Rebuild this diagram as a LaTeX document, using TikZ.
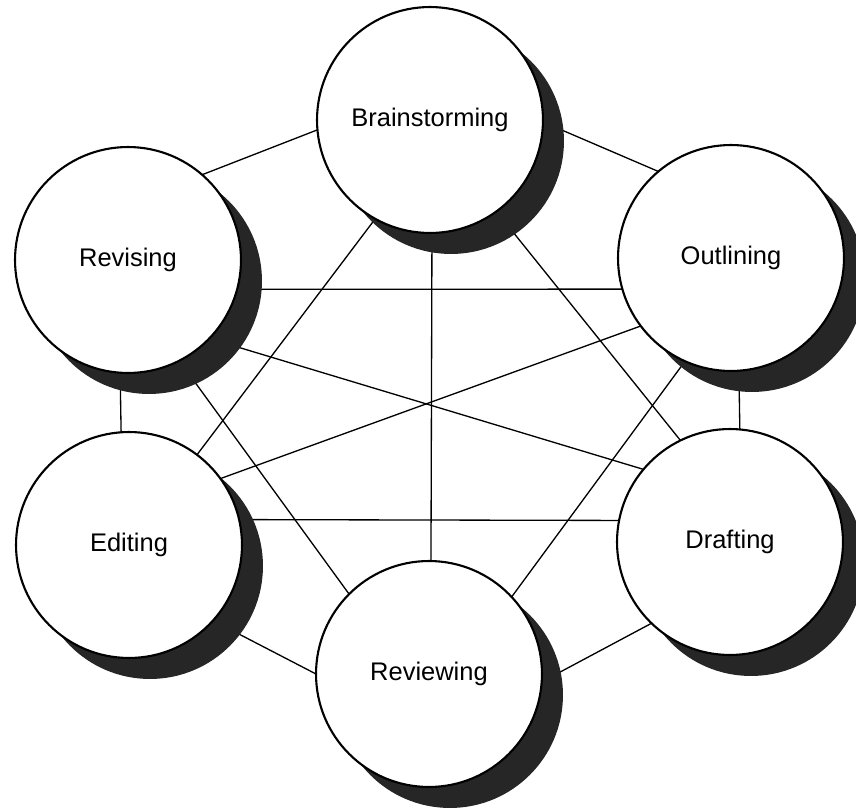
\documentclass[tikz,border=0pt]{standalone}
\usepackage{fontspec}
\setmainfont{Liberation Sans}
\usetikzlibrary{shadows,backgrounds}

\tikzset{
    stage/.style={circle, draw, line width=1.2pt, fill=white, inner sep=0pt, outer sep=0pt,
        minimum size=4.52cm, font=\fontsize{14.5}{17}\selectfont,
        drop shadow={shadow xshift=0.42cm, shadow yshift=-0.42cm, opacity=1, fill=black!85}},
    link/.style={line width=0.75pt}
}

\begin{document}
\begin{tikzpicture}[x=0.02cm, y=-0.02cm]
        \useasboundingbox (0,0) rectangle (856,808); % Page

        \node[stage] (brain) at (430,120) {Brainstorming};
        \node[stage] (revise) at (128,260) {Revising};
        \node[stage] (outline) at (731,258) {Outlining};
        \node[stage] (edit) at (129,545) {Editing};
        \node[stage] (draft) at (730,542) {Drafting};
        \node[stage] (review) at (429,674) {Reviewing};

        \begin{pgfonlayer}{background} % Streger bag cirklerne
        \draw[link] (brain.185) -- (revise.49);
        \draw[link] (brain.-1) -- (outline.130);
        \draw[link] (brain.-119) -- (edit.53);
        \draw[link] (brain.-89) -- (review.89);
        \draw[link] (brain.-54) -- (draft.116);
        \draw[link] (revise.-15) -- (outline.196);
        \draw[link] (revise.-94) -- (edit.94);
        \draw[link] (revise.-44) -- (draft.140);
        \draw[link] (revise.-63) -- (review.135);
        \draw[link] (outline.217) -- (edit.36);
        \draw[link] (outline.-86) -- (draft.85);
        \draw[link] (outline.-114) -- (review.43);
        \draw[link] (edit.13) -- (draft.169);
        \draw[link] (edit.-42) -- (review.180);
        \draw[link] (draft.226) -- (review.-4);
        \end{pgfonlayer}
\end{tikzpicture}
\end{document}
